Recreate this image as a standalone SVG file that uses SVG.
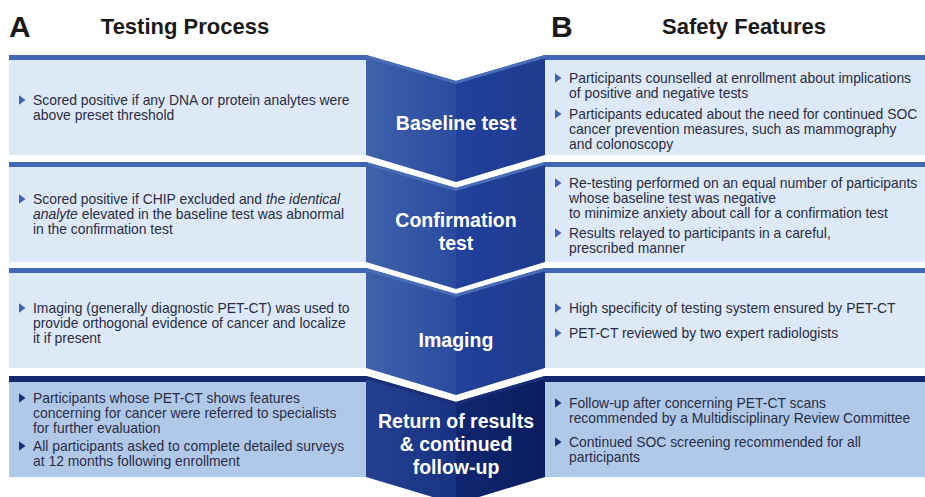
<svg xmlns="http://www.w3.org/2000/svg" width="925" height="497" viewBox="0 0 925 497">
<defs>
<linearGradient id="gl" x1="0" y1="0" x2="1" y2="0"><stop offset="0" stop-color="#3f62ab"/><stop offset="1" stop-color="#2b4b9f"/></linearGradient>
<linearGradient id="gr" x1="0" y1="0" x2="1" y2="0"><stop offset="0" stop-color="#21409a"/><stop offset="1" stop-color="#1e3b8f"/></linearGradient>
<linearGradient id="gl4" x1="0" y1="0" x2="1" y2="0"><stop offset="0" stop-color="#24408f"/><stop offset="1" stop-color="#193383"/></linearGradient>
<linearGradient id="gr4" x1="0" y1="0" x2="1" y2="0"><stop offset="0" stop-color="#0f2670"/><stop offset="1" stop-color="#0b1d5e"/></linearGradient>
<polygon id="bul" points="0,-4.8 6.5,0 0,4.8"/>
</defs>
<style>
text{font-family:"Liberation Sans",Arial,sans-serif}
.hd{font-weight:bold;fill:#1a1a1a}
.t{font-size:13.9px;fill:#2a2c44}
.lab{font-size:19.5px;font-weight:bold;fill:#ffffff;text-anchor:middle}
.p{fill:#dde9f7}
.p4{fill:#b1c9e9}
.bar{fill:#4066b5}
.bar4{fill:#15286e}
.b{fill:#3d62b0}
.b4{fill:#1a2f7c}
</style>
<rect width="925" height="497" fill="#ffffff"/>

<g id="headers">
<text class="hd" x="9" y="37" font-size="30">A</text>
<text class="hd" x="185" y="34" font-size="22" text-anchor="middle">Testing Process</text>
<text class="hd" x="551" y="37" font-size="30">B</text>
<text class="hd" x="744" y="34" font-size="22" text-anchor="middle">Safety Features</text>
</g>

<!-- Row 1 -->
<g id="left-baseline">
<rect class="p" x="9" y="55" width="357" height="100"/>
<rect class="bar" x="9" y="55" width="357" height="5"/>
<use href="#bul" class="b" x="19" y="100"/>
<text class="t" x="33" y="105">Scored positive if any DNA or protein analytes were</text>
<text class="t" x="33" y="120">above preset threshold</text>
</g>
<g id="chevron-baseline">
<polygon fill="url(#gl)" points="366,55 456,81 456,182 366,155"/>
<polygon fill="url(#gr)" points="456,81 545,55 545,155 456,182"/>
<polyline fill="none" stroke="#4a6db8" stroke-width="3" points="366,56.5 456,82.5 545,56.5"/>
<text class="lab" x="456" y="129.5">Baseline test</text>
</g>
<g id="right-baseline">
<rect class="p" x="545" y="55" width="380" height="100"/>
<rect class="bar" x="545" y="55" width="380" height="5"/>
<use href="#bul" class="b" x="555" y="78"/>
<text class="t" x="569" y="83">Participants counselled at enrollment about implications</text>
<text class="t" x="569" y="98">of positive and negative tests</text>
<use href="#bul" class="b" x="555" y="114"/>
<text class="t" x="569" y="119">Participants educated about the need for continued SOC</text>
<text class="t" x="569" y="134">cancer prevention measures, such as mammography</text>
<text class="t" x="569" y="149">and colonoscopy</text>
</g>

<!-- Row 2 -->
<g id="left-confirmation">
<rect class="p" x="9" y="162" width="357" height="100"/>
<rect class="bar" x="9" y="162" width="357" height="5"/>
<use href="#bul" class="b" x="19" y="199"/>
<text class="t" x="33" y="204">Scored positive if CHIP excluded and <tspan font-style="italic">the identical</tspan></text>
<text class="t" x="33" y="219"><tspan font-style="italic">analyte</tspan> elevated in the baseline test was abnormal</text>
<text class="t" x="33" y="234">in the confirmation test</text>
</g>
<g id="chevron-confirmation">
<polygon fill="url(#gl)" points="366,162 456,188 456,289 366,262"/>
<polygon fill="url(#gr)" points="456,188 545,162 545,262 456,289"/>
<polyline fill="none" stroke="#4a6db8" stroke-width="3" points="366,163.5 456,189.5 545,163.5"/>
<text class="lab" x="456" y="227">Confirmation</text>
<text class="lab" x="456" y="250">test</text>
</g>
<g id="right-confirmation">
<rect class="p" x="545" y="162" width="380" height="100"/>
<rect class="bar" x="545" y="162" width="380" height="5"/>
<use href="#bul" class="b" x="555" y="183"/>
<text class="t" x="569" y="188">Re-testing performed on an equal number of participants</text>
<text class="t" x="569" y="203">whose baseline test was negative</text>
<text class="t" x="569" y="218">to minimize anxiety about call for a confirmation test</text>
<use href="#bul" class="b" x="555" y="233"/>
<text class="t" x="569" y="238">Results relayed to participants in a careful,</text>
<text class="t" x="569" y="253">prescribed manner</text>
</g>

<!-- Row 3 -->
<g id="left-imaging">
<rect class="p" x="9" y="268" width="357" height="100"/>
<rect class="bar" x="9" y="268" width="357" height="5"/>
<use href="#bul" class="b" x="19" y="308"/>
<text class="t" x="33" y="313">Imaging (generally diagnostic PET-CT) was used to</text>
<text class="t" x="33" y="328">provide orthogonal evidence of cancer and localize</text>
<text class="t" x="33" y="343">it if present</text>
</g>
<g id="chevron-imaging">
<polygon fill="url(#gl)" points="366,268 456,294 456,395 366,368"/>
<polygon fill="url(#gr)" points="456,294 545,268 545,368 456,395"/>
<polyline fill="none" stroke="#4a6db8" stroke-width="3" points="366,269.5 456,295.5 545,269.5"/>
<text class="lab" x="456" y="347">Imaging</text>
</g>
<g id="right-imaging">
<rect class="p" x="545" y="268" width="380" height="100"/>
<rect class="bar" x="545" y="268" width="380" height="5"/>
<use href="#bul" class="b" x="555" y="308"/>
<text class="t" x="569" y="313">High specificity of testing system ensured by PET-CT</text>
<use href="#bul" class="b" x="555" y="333"/>
<text class="t" x="569" y="338">PET-CT reviewed by two expert radiologists</text>
</g>

<!-- Row 4 -->
<g id="left-return">
<rect class="p4" x="9" y="376" width="357" height="101"/>
<rect class="bar4" x="9" y="376" width="357" height="6"/>
<use href="#bul" class="b4" x="19" y="398"/>
<text class="t" x="33" y="403">Participants whose PET-CT shows features</text>
<text class="t" x="33" y="418">concerning for cancer were referred to specialists</text>
<text class="t" x="33" y="433">for further evaluation</text>
<use href="#bul" class="b4" x="19" y="446"/>
<text class="t" x="33" y="451">All participants asked to complete detailed surveys</text>
<text class="t" x="33" y="466">at 12 months following enrollment</text>
</g>
<g id="chevron-return">
<polygon fill="url(#gl4)" points="366,376 456,402 456,504 366,477"/>
<polygon fill="url(#gr4)" points="456,402 545,376 545,477 456,504"/>
<polyline fill="none" stroke="#1a2f78" stroke-width="3" points="366,377.5 456,403.5 545,377.5"/>
<text class="lab" x="456" y="428">Return of results</text>
<text class="lab" x="456" y="451">&amp; continued</text>
<text class="lab" x="456" y="474">follow-up</text>
</g>
<g id="right-return">
<rect class="p4" x="545" y="376" width="380" height="101"/>
<rect class="bar4" x="545" y="376" width="380" height="6"/>
<use href="#bul" class="b4" x="555" y="403"/>
<text class="t" x="569" y="408">Follow-up after concerning PET-CT scans</text>
<text class="t" x="569" y="423">recommended by a Multidisciplinary Review Committee</text>
<use href="#bul" class="b4" x="555" y="442"/>
<text class="t" x="569" y="447">Continued SOC screening recommended for all</text>
<text class="t" x="569" y="462">participants</text>
</g>
</svg>
